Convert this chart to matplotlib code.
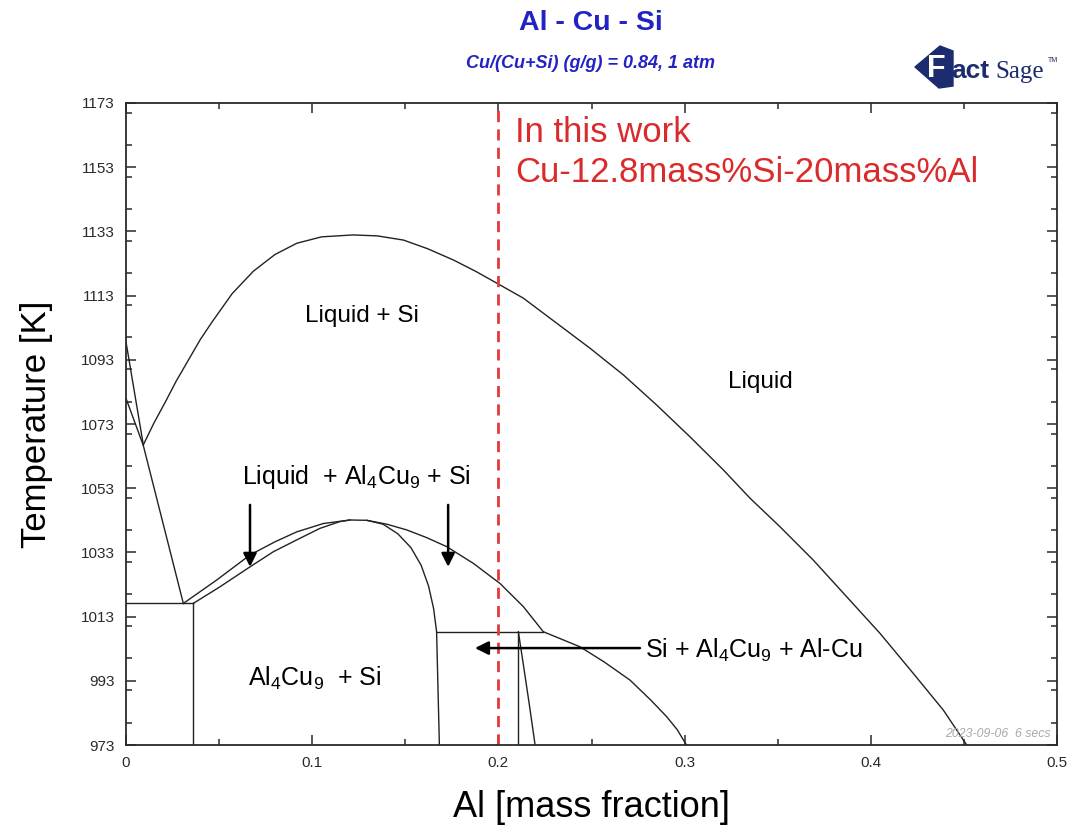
import matplotlib

matplotlib.use("Agg")
import matplotlib.pyplot as plt
from matplotlib.patches import Polygon
from matplotlib.ticker import MultipleLocator

plt.rcParams["font.family"] = ["Liberation Sans", "DejaVu Sans"]
plt.rcParams["mathtext.fontset"] = "custom"
plt.rcParams["mathtext.rm"] = "Liberation Sans"
plt.rcParams["mathtext.it"] = "Liberation Sans:italic"

# Liquid / Liquid + Si boundary
liquidus_x = [0.0093, 0.015, 0.0209, 0.027, 0.0335, 0.04, 0.046, 0.057, 0.0684, 0.08,
              0.0917, 0.105, 0.122, 0.135, 0.149, 0.162, 0.1758, 0.188, 0.2009,
              0.2134, 0.2313, 0.2492, 0.2671, 0.285, 0.3029, 0.3208, 0.3351, 0.3512,
              0.3691, 0.387, 0.4049, 0.4228, 0.4389, 0.4515]
liquidus_t = [1066.5, 1073.3, 1079.6, 1086.4, 1092.9, 1099.4, 1104.6, 1113.6, 1120.6, 1125.8,
              1129.3, 1131.3, 1131.9, 1131.6, 1130.3, 1127.6, 1124.1, 1120.5, 1116.3,
              1112.2, 1104.4, 1096.6, 1088.3, 1078.9, 1069.0, 1058.7, 1049.9, 1041.0,
              1030.6, 1019.2, 1007.8, 995.3, 983.9, 973.0]

# short lines near pure Cu-Si side
left_upper_x = [0.0, 0.0093]
left_upper_t = [1098.6, 1066.5]
left_lower_x = [0.0, 0.0093, 0.0308]
left_lower_t = [1081.0, 1066.3, 1017.1]

# Liquid + Al4Cu9 + Si dome, upper branch
dome_top_x = [0.0308, 0.0487, 0.0666, 0.08, 0.0917, 0.106, 0.1203, 0.1293, 0.14, 0.1508,
              0.1615, 0.1722, 0.1865, 0.2009, 0.2134, 0.2241, 0.2438, 0.257, 0.2707,
              0.282, 0.2904, 0.296, 0.301]
dome_top_t = [1017.1, 1024.4, 1032.2, 1036.3, 1039.4, 1042.0, 1043.1, 1043.0, 1041.8, 1040.0,
              1037.6, 1034.8, 1029.6, 1023.3, 1016.1, 1008.3, 1003.6, 998.8, 993.2,
              986.9, 981.8, 977.8, 973.0]

# dome, lower branch (Al4Cu9 side)
dome_low_x = [0.0361, 0.0505, 0.0666, 0.0791, 0.0917, 0.1042, 0.1149, 0.1203]
dome_low_t = [1017.1, 1022.3, 1028.5, 1033.2, 1036.9, 1040.5, 1042.6, 1043.1]

# dome, inner right branch
solvus_x = [0.1293, 0.138, 0.146, 0.153, 0.1585, 0.1625, 0.1652, 0.1668, 0.1683]
solvus_t = [1043.0, 1041.8, 1038.8, 1034.5, 1029.0, 1022.5, 1015.5, 1008.3, 973.0]

# eutectic / peritectic horizontals and verticals
left_h_x = [0.0, 0.0361]
left_h_t = [1017.1, 1017.1]
left_v_x = [0.0361, 0.0361]
left_v_t = [1017.1, 973.0]
right_h_x = [0.1668, 0.2241]
right_h_t = [1008.3, 1008.3]
alcu_v_x = [0.2107, 0.2107]
alcu_v_t = [1008.3, 973.0]
alcu_c_x = [0.2107, 0.2133, 0.2165, 0.2197]
alcu_c_t = [1008.3, 998.4, 986.0, 973.0]

curves = [
    (liquidus_x, liquidus_t), (left_upper_x, left_upper_t), (left_lower_x, left_lower_t),
    (dome_top_x, dome_top_t), (dome_low_x, dome_low_t), (solvus_x, solvus_t),
    (left_h_x, left_h_t), (left_v_x, left_v_t), (right_h_x, right_h_t),
    (alcu_v_x, alcu_v_t), (alcu_c_x, alcu_c_t),
]

work_x = 0.2
x_ticks = [0, 0.1, 0.2, 0.3, 0.4, 0.5]
x_tick_labels = ["0", "0.1", "0.2", "0.3", "0.4", "0.5"]
y_ticks = list(range(973, 1174, 20))

fig = plt.figure(figsize=(10.75, 8.34), dpi=100)
ax = fig.add_axes((0.1172, 0.1067, 0.8661, 0.7698))

for xs, ts in curves:
    ax.plot(xs, ts, color="#222222", lw=1.0, solid_joinstyle="round")

ax.axvline(work_x, color="#e03a3a", lw=2.0, linestyle=(0, (4, 2.6)))

ax.set_xlim(0, 0.5)
ax.set_ylim(973, 1173)
ax.set_xticks(x_ticks)
ax.set_xticklabels(x_tick_labels)
ax.set_yticks(y_ticks)
ax.xaxis.set_minor_locator(MultipleLocator(0.05))
ax.yaxis.set_minor_locator(MultipleLocator(10))
ax.tick_params(which="both", direction="in", top=True, right=True,
               colors="#2a2a2a", labelsize=11, width=1.1)
ax.tick_params(which="major", length=7, pad=8)
ax.tick_params(which="minor", length=4)
for sp in ax.spines.values():
    sp.set_linewidth(1.3)
    sp.set_color("#2a2a2a")

ax.set_xlabel("Al [mass fraction]", fontsize=26, labelpad=14)
ax.set_ylabel("Temperature [K]", fontsize=25, labelpad=20)

# phase labels
ax.text(0.1267, 1106.6, "Liquid + Si", fontsize=17.5, ha="center", va="center")
ax.text(0.3405, 1086.1, "Liquid", fontsize=17.5, ha="center", va="center")
ax.text(0.1235, 1056.4, "Liquid  + Al$_4$Cu$_9$ + Si", fontsize=18, ha="center", va="center")
ax.text(0.1015, 993.6, "Al$_4$Cu$_9$  + Si", fontsize=18, ha="center", va="center")
ax.text(0.2787, 1002.6, "Si + Al$_4$Cu$_9$ + Al-Cu", fontsize=18, ha="left", va="center")

arrow = dict(arrowstyle="-|>", color="black", lw=1.8, mutation_scale=20,
             shrinkA=0, shrinkB=0)
ax.annotate("", xy=(0.0666, 1028.5), xytext=(0.0666, 1047.8), arrowprops=arrow)
ax.annotate("", xy=(0.173, 1028.5), xytext=(0.173, 1047.8), arrowprops=arrow)
ax.annotate("", xy=(0.1874, 1003.2), xytext=(0.276, 1003.2), arrowprops=arrow)

ax.text(0.2089, 1163.8, "In this work", fontsize=25, color="#d92b2b", va="center")
ax.text(0.2089, 1151.2, "Cu-12.8mass%Si-20mass%Al", fontsize=25, color="#d92b2b",
        va="center")

ax.text(0.4965, 976.5, "2023-09-06  6 secs", fontsize=8.8, style="italic",
        color="#a8a8a8", ha="right", va="center")

# titles
fig.text(0.5498, 0.972, "Al - Cu - Si", fontsize=20.5, fontweight="bold",
         color="#2323c4", ha="center", va="center")
fig.text(0.549, 0.924, "Cu/(Cu+Si) (g/g) = 0.84, 1 atm", fontsize=13, fontweight="bold",
         style="italic", color="#2323c4", ha="center", va="center")

# FactSage logo
navy = "#1c2c6e"
logo = [(915, 67), (940, 46), (953, 51), (953, 86), (939, 88)]
fig.patches.append(Polygon([(px / 1075, 1 - py / 834) for px, py in logo],
                           closed=True, facecolor=navy, edgecolor=navy,
                           transform=fig.transFigure, figure=fig))
fig.text(936 / 1075, 1 - 69 / 834, "F", fontsize=22, fontweight="bold", color="white",
         ha="center", va="center")
fig.text(951 / 1075, 1 - 71 / 834, "act", fontsize=19, fontweight="bold", color=navy,
         ha="left", va="center")
fig.text(995 / 1075, 1 - 72 / 834, "Sage", fontsize=18, color=navy,
         ha="left", va="center", family="Liberation Serif")
fig.text(1048 / 1075, 1 - 60 / 834, "TM", fontsize=5, color=navy,
         ha="left", va="center")

fig.savefig("out.png", dpi=100)
